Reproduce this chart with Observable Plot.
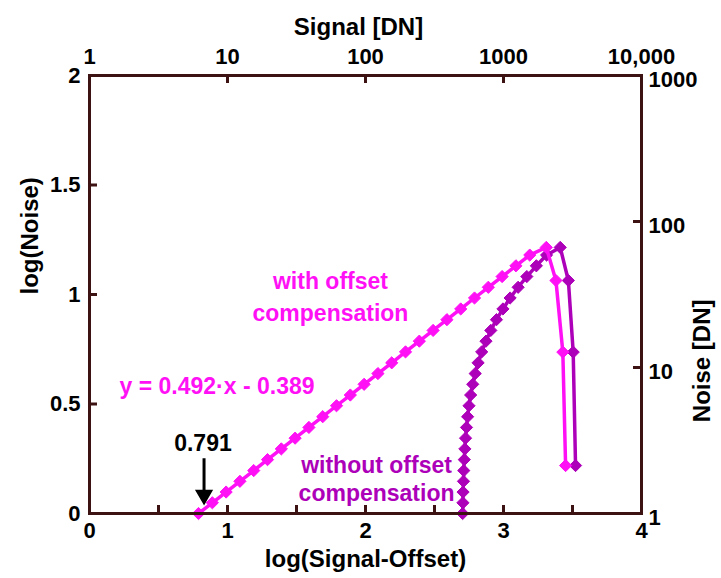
<!DOCTYPE html>
<html><head><meta charset="utf-8">
<script src="https://cdn.jsdelivr.net/npm/d3@7"></script>
<script src="https://cdn.jsdelivr.net/npm/@observablehq/plot@0.6"></script>
<style>body{margin:0;background:#fff}</style>
</head><body><div id="chart"></div>
<script>
// --- data ---
const withOffsetX = [0.79,0.89,0.99,1.09,1.19,1.29,1.39,1.49,1.59,1.69,1.79,1.89,1.99,2.09,2.19,2.29,2.39,2.49,2.59,2.69,2.79,2.89,2.99,3.09,3.19,3.31,3.38,3.43,3.45];
const withOffsetY = [0.000,0.049,0.098,0.147,0.196,0.246,0.295,0.344,0.393,0.442,0.492,0.541,0.590,0.639,0.688,0.738,0.787,0.836,0.885,0.934,0.984,1.033,1.082,1.131,1.180,1.215,1.064,0.737,0.219];
const withoutOffsetX = [2.704,2.706,2.707,2.710,2.712,2.716,2.720,2.725,2.732,2.740,2.750,2.762,2.777,2.795,2.816,2.842,2.873,2.908,2.949,2.996,3.048,3.106,3.169,3.238,3.312,3.411,3.470,3.505,3.522];
const withoutOffsetY = [0.000,0.049,0.098,0.147,0.196,0.246,0.295,0.344,0.393,0.442,0.492,0.541,0.590,0.639,0.688,0.738,0.787,0.836,0.885,0.934,0.984,1.033,1.082,1.131,1.180,1.215,1.064,0.737,0.219];

// axis ticks
const xTicks = [0,1,2,3,4];
const xTickLabels = ["0","1","2","3","4"];
const xTickMarks = [0.5,1,1.5,2,2.5,3,3.5];
const yTicks = [0,0.5,1,1.5,2];
const yTickLabels = ["0","0.5","1","1.5","2"];
const yTickMarks = [0.5,1,1.5];
const signalTicks = [1,10,100,1000,10000];
const signalTickLabels = ["1","10","100","1000","10,000"];
const signalTickMarks = [10,100,1000];
const noiseTicks = [1,10,100,1000];
const noiseTickLabels = ["1","10","100","1000"];
const noiseTickMarks = [10,100];

// annotations (one entry per text line)
const annotations = [
  {x: 1.746, y: 1.059, text: "with offset", color: "magenta"},
  {x: 1.746, y: 0.913, text: "compensation", color: "magenta"},
  {x: 0.924, y: 0.58, text: "y = 0.492\u00b7x - 0.389", color: "magenta"},
  {x: 2.08, y: 0.219, text: "without offset", color: "purple"},
  {x: 2.08, y: 0.091, text: "compensation", color: "purple"},
  {x: 0.822, y: 0.32, text: "0.791", color: "black"}
];
const arrowX = 0.83, arrowY1 = 0.25, arrowY2 = 0.1, arrowHeadY = 0.085;

const colors = {magenta: "#ff10f5", purple: "#ad00b9", black: "#000"};
const axisColor = "#3d1212";

const W = 721, H = 578, mL = 89, mR = 80, mT = 75, mB = 65;
const tkX = 8 * 4 / (W - mL - mR);
const tkY = 8 * 2 / (H - mT - mB);

const toTop = v => Math.log10(v);          // Signal [DN] on a 1..10,000 log axis
const toRight = v => Math.log10(v) * 2 / 3; // Noise [DN] on a 1..1000 log axis
const fmt = (vals, labels, f) => { const m = new Map(vals.map((v, i) => [f(v), labels[i]])); return d => m.get(d); };

const withData = withOffsetX.map((x, i) => ({x, y: withOffsetY[i]}));
const withoutData = withoutOffsetX.map((x, i) => ({x, y: withoutOffsetY[i]}));
const font = "'Liberation Sans', Arial, sans-serif";

const chart = Plot.plot({
  width: W, height: H,
  marginLeft: mL, marginRight: mR, marginTop: mT, marginBottom: mB,
  style: {fontFamily: font, fontSize: "22px", fontWeight: "bold", color: "black", background: "white"},
  x: {domain: [0, 4]},
  y: {domain: [0, 2]},
  marks: [
    Plot.axisX({anchor: "bottom", ticks: xTicks, tickFormat: fmt(xTicks, xTickLabels, d => d), tickSize: 0, tickPadding: 9, label: null, fontSize: 22, fontWeight: "bold"}),
    Plot.axisY({anchor: "left", ticks: yTicks, tickFormat: fmt(yTicks, yTickLabels, d => d), tickSize: 0, tickPadding: 9, label: null, fontSize: 22, fontWeight: "bold"}),
    Plot.axisX({anchor: "top", ticks: signalTicks.map(toTop), tickFormat: fmt(signalTicks, signalTickLabels, toTop), tickSize: 0, tickPadding: 12, label: null, fontSize: 22, fontWeight: "bold"}),
    Plot.axisY({anchor: "right", ticks: noiseTicks.map(toRight), tickFormat: fmt(noiseTicks, noiseTickLabels, toRight), tickSize: 0, tickPadding: 7, dy: 4, label: null, fontSize: 22, fontWeight: "bold"}),
    Plot.text(["log(Signal-Offset)"], {frameAnchor: "bottom", dy: 53, fontSize: 24, fontWeight: "bold", fill: "black"}),
    Plot.text(["log(Noise)"], {frameAnchor: "left", rotate: -90, dx: -59, fontSize: 24, fontWeight: "bold", fill: "black"}),
    Plot.text(["Signal [DN]"], {frameAnchor: "top", dx: -7, dy: -58, fontSize: 24, fontWeight: "bold", fill: "black"}),
    Plot.text(["Noise [DN]"], {frameAnchor: "right", rotate: -90, dx: 61, dy: 5, fontSize: 24, fontWeight: "bold", fill: "black"}),
    Plot.ruleX(xTickMarks, {x: d => d, y1: 0, y2: tkY, stroke: axisColor, strokeWidth: 3}),
    Plot.ruleX(signalTickMarks, {x: toTop, y1: 2, y2: 2 - tkY, stroke: axisColor, strokeWidth: 3}),
    Plot.ruleY(yTickMarks, {y: d => d, x1: 0, x2: tkX, stroke: axisColor, strokeWidth: 3}),
    Plot.ruleY(noiseTickMarks, {y: toRight, x1: 4, x2: 4 - tkX, stroke: axisColor, strokeWidth: 3}),
    Plot.line(withoutData, {x: "x", y: "y", stroke: colors.purple, strokeWidth: 3.5}),
    Plot.dot(withoutData, {x: "x", y: "y", symbol: "diamond2", r: 5.5, fill: colors.purple, stroke: colors.purple, strokeWidth: 1}),
    Plot.line(withData, {x: "x", y: "y", stroke: colors.magenta, strokeWidth: 3.5}),
    Plot.dot(withData, {x: "x", y: "y", symbol: "diamond2", r: 5.5, fill: colors.magenta, stroke: colors.magenta, strokeWidth: 1}),
    Plot.frame({stroke: axisColor, strokeWidth: 3}),
    Plot.text(annotations, {x: "x", y: "y", text: "text", fill: d => colors[d.color], fontSize: 23, fontWeight: "bold"}),
    Plot.ruleX([arrowX], {x: d => d, y1: arrowY1, y2: arrowY2, stroke: "black", strokeWidth: 3}),
    Plot.dot([arrowX], {x: d => d, y: arrowHeadY, symbol: "triangle", r: 5.8, rotate: 180, fill: "black", stroke: "black"})
  ]
});
document.getElementById("chart").appendChild(chart);
</script>
</body></html>
